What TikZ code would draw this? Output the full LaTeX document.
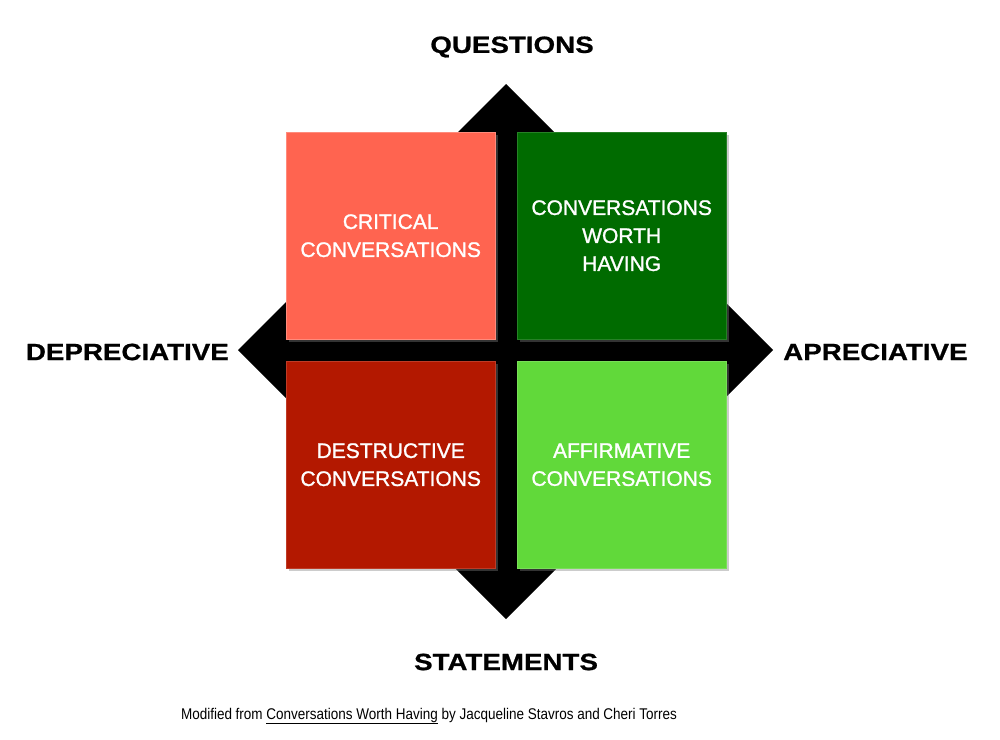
\documentclass[tikz,border=0pt]{standalone}
\usepackage{fontspec}
\setmainfont{Liberation Sans}
\newfontfamily\axisfont[FakeStretch=1.18,FakeBold=0.8]{Liberation Sans}
\newfontfamily\quadfont[FakeBold=1.2]{Liberation Sans}
\newfontfamily\sourcefont[FakeStretch=0.87]{Liberation Sans}
\usetikzlibrary{shadows}
\definecolor{critical}{RGB}{255,100,80}
\definecolor{worth}{RGB}{0,107,0}
\definecolor{destructive}{RGB}{179,24,0}
\definecolor{affirmative}{RGB}{97,217,58}

\begin{document}
\begin{tikzpicture}[x=1pt,y=-1pt,
        quad/.style={rectangle,minimum width=209pt,minimum height=207pt,anchor=north west,inner sep=0,
            align=center,text=white,font=\quadfont\fontsize{21}{28}\selectfont,
            drop shadow={shadow xshift=3pt,shadow yshift=-3pt,opacity=0.4,fill=gray}},
        axislabel/.style={inner sep=0,font=\axisfont\bfseries\fontsize{23.5}{27}\selectfont}]
        \useasboundingbox (0,0) rectangle (1000,739);
        \begin{scope}

            % Cross
            {[black]
                \fill (495,100) rectangle (517,600);
                \fill (250,339) rectangle (762,361);
                \fill (506,84) -- (572,150) -- (440,150) -- cycle;
                \fill (506,619) -- (572,553) -- (440,553) -- cycle;
                \fill (238,350) -- (304,284) -- (304,416) -- cycle;
                \fill (773,350) -- (707,284) -- (707,416) -- cycle;
            }

            % Quadrants
            \node[quad,fill=critical,draw=critical!75!white] (critical) at (286,132) {CRITICAL\\CONVERSATIONS};
            \node[quad,fill=worth,draw=worth!85!white] (worth) at (517,132) {CONVERSATIONS\\WORTH\\HAVING};
            \node[quad,fill=destructive,draw=destructive!85!white] (destructive) at (286,361) {DESTRUCTIVE\\CONVERSATIONS};
            \node[quad,fill=affirmative,draw=affirmative!85!white] (affirmative) at (517,361) {AFFIRMATIVE\\CONVERSATIONS};

            % Axis labels
            \node[axislabel] (questions) at (512,47) {QUESTIONS};
            \node[axislabel] (statements) at (506,662) {STATEMENTS};
            \node[axislabel,anchor=east] (depreciative) at (229,352) {DEPRECIATIVE};
            \node[axislabel,anchor=west] (apreciative) at (783,352) {APRECIATIVE};

            % Source
            \node[font=\sourcefont\fontsize{15.5}{18}\selectfont] (source) at (429,716) {Modified from \underline{Conversations Worth Having} by Jacqueline Stavros and Cheri Torres};

        \end{scope}
    \end{tikzpicture}
\end{document}
